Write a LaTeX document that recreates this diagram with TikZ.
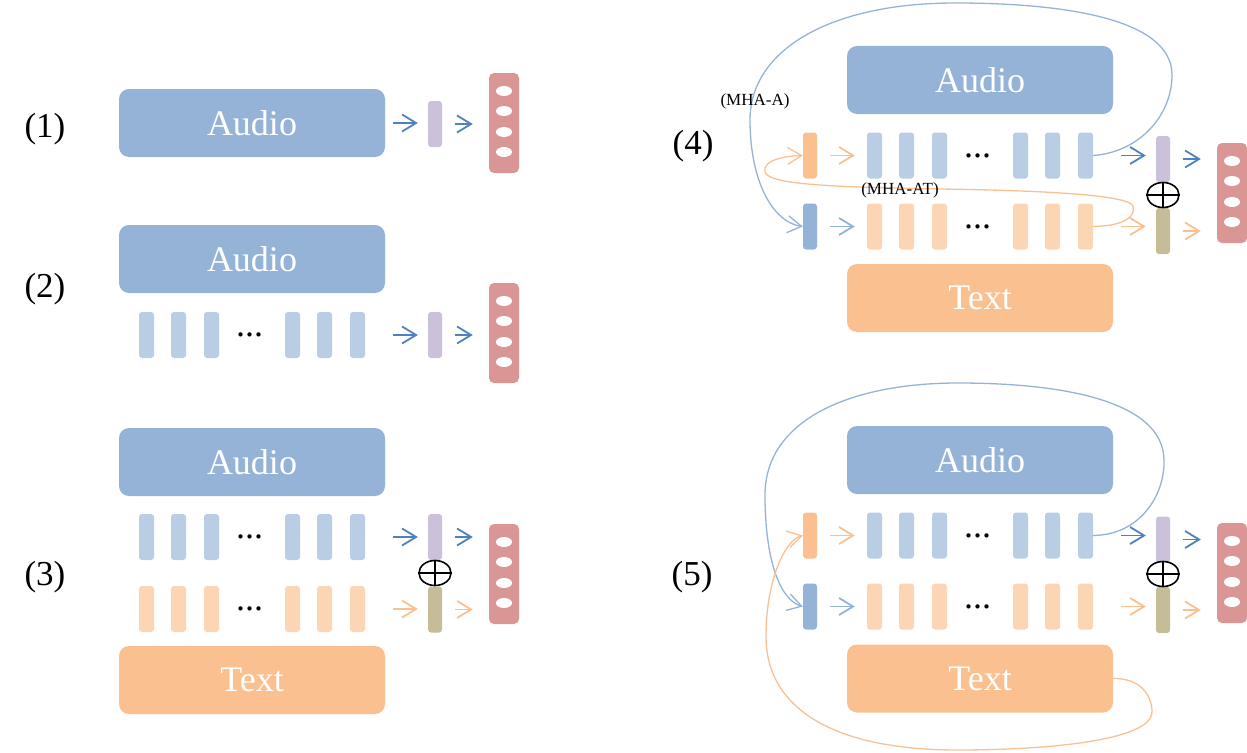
\documentclass[tikz,border=0pt]{standalone}
\usepackage{fontspec}
\setmainfont{Liberation Serif}
\usetikzlibrary{arrows.meta,calc,shapes.geometric}

\definecolor{audioblue}{HTML}{95B3D7}
\definecolor{tokblue}{HTML}{B9CDE5}
\definecolor{tokorange}{HTML}{FCD5B5}
\definecolor{textorange}{HTML}{FAC090}
\definecolor{fusepurple}{HTML}{CCC1DA}
\definecolor{fuseolive}{HTML}{C4BD97}
\definecolor{outred}{HTML}{DA9694}
\definecolor{arrowblue}{HTML}{4F81BD}

\tikzset{
  box/.style={rounded corners=10pt, minimum width=266pt, minimum height=68pt, inner sep=0pt, text=white, font=\fontsize{36}{40}\selectfont},
  audiobox/.style={box, fill=audioblue},
  textbox/.style={box, fill=textorange},
  tok/.style={rounded corners=3pt, minimum width=15pt, minimum height=46pt, inner sep=0pt},
  atok/.style={tok, fill=tokblue},
  ttok/.style={tok, fill=tokorange},
  vec/.style={rounded corners=3pt, minimum width=14pt, minimum height=46pt, inner sep=0pt},
  outbox/.style={rounded corners=5pt, fill=outred, minimum width=30pt, minimum height=100pt, inner sep=0pt},
  plus/.style={ellipse, draw, fill=white, line width=1.6pt, minimum width=32pt, minimum height=25pt, inner sep=0pt},
  dots/.style={font=\fontsize{36}{40}\selectfont, inner sep=0pt},
  tag/.style={font=\fontsize{35}{40}\selectfont, inner sep=0pt},
  mha/.style={font=\fontsize{17}{20}\selectfont, inner sep=1pt},
  arr/.style={-{Straight Barb[length=14pt,width=17pt]}, line width=1.8pt},
  curve/.style={-{Straight Barb[length=14pt,width=17pt]}, line width=1.3pt},
  gapin/.style={shorten <=28pt, shorten >=10pt},
  gapout/.style={shorten <=13pt, shorten >=16pt},
  gapsm/.style={shorten <=13pt, shorten >=12pt},
}

\begin{document}
\begin{tikzpicture}[x=1pt, y=-1pt]
  \useasboundingbox (0,0) rectangle (1247,752);

  %%%%% (1) %%%%%
  \node[tag] (l1) at (45,129) {(1)};
  \node[audiobox] (a1) at (252,123) {Audio};
  \node[vec, fill=fusepurple] (p1) at (435,124) {};
  \node[outbox] (r1) at (504,123) {};
  \foreach \dy in {-32,-12,9,29}
    \fill[white] ($(r1)+(0,\dy)$) ellipse (8pt and 5pt);
  \draw[arr, draw=arrowblue, shorten <=8pt, shorten >=10pt] (a1.east) -- (a1.east -| p1.west);
  \draw[arr, draw=arrowblue, gapout] (p1.east) -- (p1.east -| r1.west);

  %%%%% (2) %%%%%
  \node[tag] (l2) at (45,289) {(2)};
  \node[audiobox] (a2) at (252,259) {Audio};
  \foreach \x [count=\i] in {146.5,178.5,211.5,292.5,324.5,357.5}
    \node[atok] (ta2-\i) at (\x,335) {};
  \node[dots] (d2) at (249.5,335) {...};
  \node[vec, fill=fusepurple] (p2) at (435,335) {};
  \node[outbox] (r2) at (504,333) {};
  \foreach \dy in {-32,-12,9,29}
    \fill[white] ($(r2)+(0,\dy)$) ellipse (8pt and 5pt);
  \draw[arr, draw=arrowblue, gapin] (ta2-6) -- (p2);
  \draw[arr, draw=arrowblue, gapout] (p2.east) -- (p2.east -| r2.west);

  %%%%% (3) %%%%%
  \node[tag] (l3) at (45,577) {(3)};
  \node[audiobox] (a3) at (252,462) {Audio};
  \foreach \x [count=\i] in {146.5,178.5,211.5,292.5,324.5,357.5} {
    \node[atok] (ta3-\i) at (\x,537) {};
    \node[ttok] (tt3-\i) at (\x,609) {};
  }
  \node[dots] (d3a) at (249.5,537) {...};
  \node[dots] (d3b) at (249.5,609) {...};
  \node[textbox] (x3) at (252,680) {Text};
  \node[vec, fill=fusepurple] (p3) at (435,537) {};
  \node[vec, fill=fuseolive] (q3) at (435,609.5) {};
  \node[plus] (o3) at (435,573) {};
  \draw[line width=1.6pt] (o3.north) -- (o3.south) (o3.west) -- (o3.east);
  \node[outbox] (r3) at (504,574) {};
  \foreach \dy in {-32,-12,9,29}
    \fill[white] ($(r3)+(0,\dy)$) ellipse (8pt and 5pt);
  \draw[arr, draw=arrowblue, gapin] (ta3-6) -- (p3);
  \draw[arr, draw=arrowblue, gapout] (p3.east) -- (p3.east -| r3.west);
  \draw[arr, draw=textorange, gapin] (tt3-6.east) -- (tt3-6.east -| q3.west);
  \draw[arr, draw=textorange, gapout] (q3.east) -- (q3.east -| r3.west);

  %%%%% (4) %%%%%
  \node[tag] (l4) at (693,146) {(4)};
  \node[audiobox] (a4) at (980,80) {Audio};
  \foreach \x [count=\i] in {874.5,906.5,939.5,1020.5,1052.5,1085.5} {
    \node[atok] (ta4-\i) at (\x,155.5) {};
    \node[ttok] (tt4-\i) at (\x,226.5) {};
  }
  \node[dots] (d4a) at (977.5,156) {...};
  \node[dots] (d4b) at (977.5,227) {...};
  \node[textbox] (x4) at (980,298) {Text};
  \node[vec, fill=textorange] (s4a) at (810,155.5) {};
  \node[vec, fill=audioblue] (s4b) at (810,226.5) {};
  \node[vec, fill=fusepurple] (p4) at (1163,159) {};
  \node[vec, fill=fuseolive] (q4) at (1163,231) {};
  \node[plus] (o4) at (1163,195) {};
  \draw[line width=1.6pt] (o4.north) -- (o4.south) (o4.west) -- (o4.east);
  \node[outbox] (r4) at (1232,193) {};
  \foreach \dy in {-32,-12,9,29}
    \fill[white] ($(r4)+(0,\dy)$) ellipse (8pt and 5pt);
  \draw[arr, draw=textorange, gapsm] (s4a) -- (ta4-1);
  \draw[arr, draw=audioblue, gapsm] (s4b) -- (tt4-1);
  \draw[arr, draw=arrowblue, gapin] (ta4-6.east) -- (ta4-6.east -| p4.west);
  \draw[arr, draw=arrowblue, gapout] (p4.east) -- (p4.east -| r4.west);
  \draw[arr, draw=textorange, gapin] (tt4-6.east) -- (tt4-6.east -| q4.west);
  \draw[arr, draw=textorange, gapout] (q4.east) -- (q4.east -| r4.west);
  % attention loops
  \draw[curve, draw=audioblue] (ta4-6.east) .. controls (1140,152) and (1172,115) .. (1172,75)
    .. controls (1172,15) and (1050,3) .. (955,3)
    .. controls (830,3) and (750,50) .. (750,120)
    .. controls (750,180) and (772,222) .. (s4b.west);
  \draw[curve, draw=textorange] (tt4-6.east) .. controls (1125,226) and (1136,216) .. (1133,206)
    .. controls (1128,193) and (1010,190) .. (940,189)
    .. controls (850,187) and (768,186) .. (765,172)
    .. controls (762,160) and (785,156) .. (s4a.west);
  \node[mha] (m4a) at (755,101) {(MHA-A)};
  \node[mha] (m4b) at (900,190) {(MHA-AT)};

  %%%%% (5) %%%%%
  \node[tag] (l5) at (692,577) {(5)};
  \node[audiobox] (a5) at (980,460) {Audio};
  \foreach \x [count=\i] in {874.5,906.5,939.5,1020.5,1052.5,1085.5} {
    \node[atok] (ta5-\i) at (\x,535.5) {};
    \node[ttok] (tt5-\i) at (\x,606.5) {};
  }
  \node[dots] (d5a) at (977.5,536) {...};
  \node[dots] (d5b) at (977.5,607) {...};
  \node[textbox] (x5) at (980,678.5) {Text};
  \node[vec, fill=textorange] (s5a) at (810,535.5) {};
  \node[vec, fill=audioblue] (s5b) at (810,606.5) {};
  \node[vec, fill=fusepurple] (p5) at (1163,539.5) {};
  \node[vec, fill=fuseolive] (q5) at (1163,610) {};
  \node[plus] (o5) at (1163,574) {};
  \draw[line width=1.6pt] (o5.north) -- (o5.south) (o5.west) -- (o5.east);
  \node[outbox] (r5) at (1232,573) {};
  \foreach \dy in {-32,-12,9,29}
    \fill[white] ($(r5)+(0,\dy)$) ellipse (8pt and 5pt);
  \draw[arr, draw=textorange, gapsm] (s5a) -- (ta5-1);
  \draw[arr, draw=audioblue, gapsm] (s5b) -- (tt5-1);
  \draw[arr, draw=arrowblue, gapin] (ta5-6.east) -- (ta5-6.east -| p5.west);
  \draw[arr, draw=arrowblue, gapout] (p5.east) -- (p5.east -| r5.west);
  \draw[arr, draw=textorange, gapin] (tt5-6.east) -- (tt5-6.east -| q5.west);
  \draw[arr, draw=textorange, gapout] (q5.east) -- (q5.east -| r5.west);
  % attention loops
  \draw[curve, draw=audioblue] (ta5-6.east) .. controls (1140,535) and (1165,495) .. (1164,460)
    .. controls (1163,400) and (1060,383) .. (958,383)
    .. controls (850,383) and (765,420) .. (765,495)
    .. controls (765,560) and (780,600) .. (s5b.west);
  \draw[curve, draw=textorange] (x5.east) .. controls (1140,678) and (1152,695) .. (1152,712)
    .. controls (1152,740) and (1050,750) .. (958,750)
    .. controls (820,750) and (766,700) .. (766,637)
    .. controls (766,580) and (785,540) .. (s5a.west);
\end{tikzpicture}
\end{document}
